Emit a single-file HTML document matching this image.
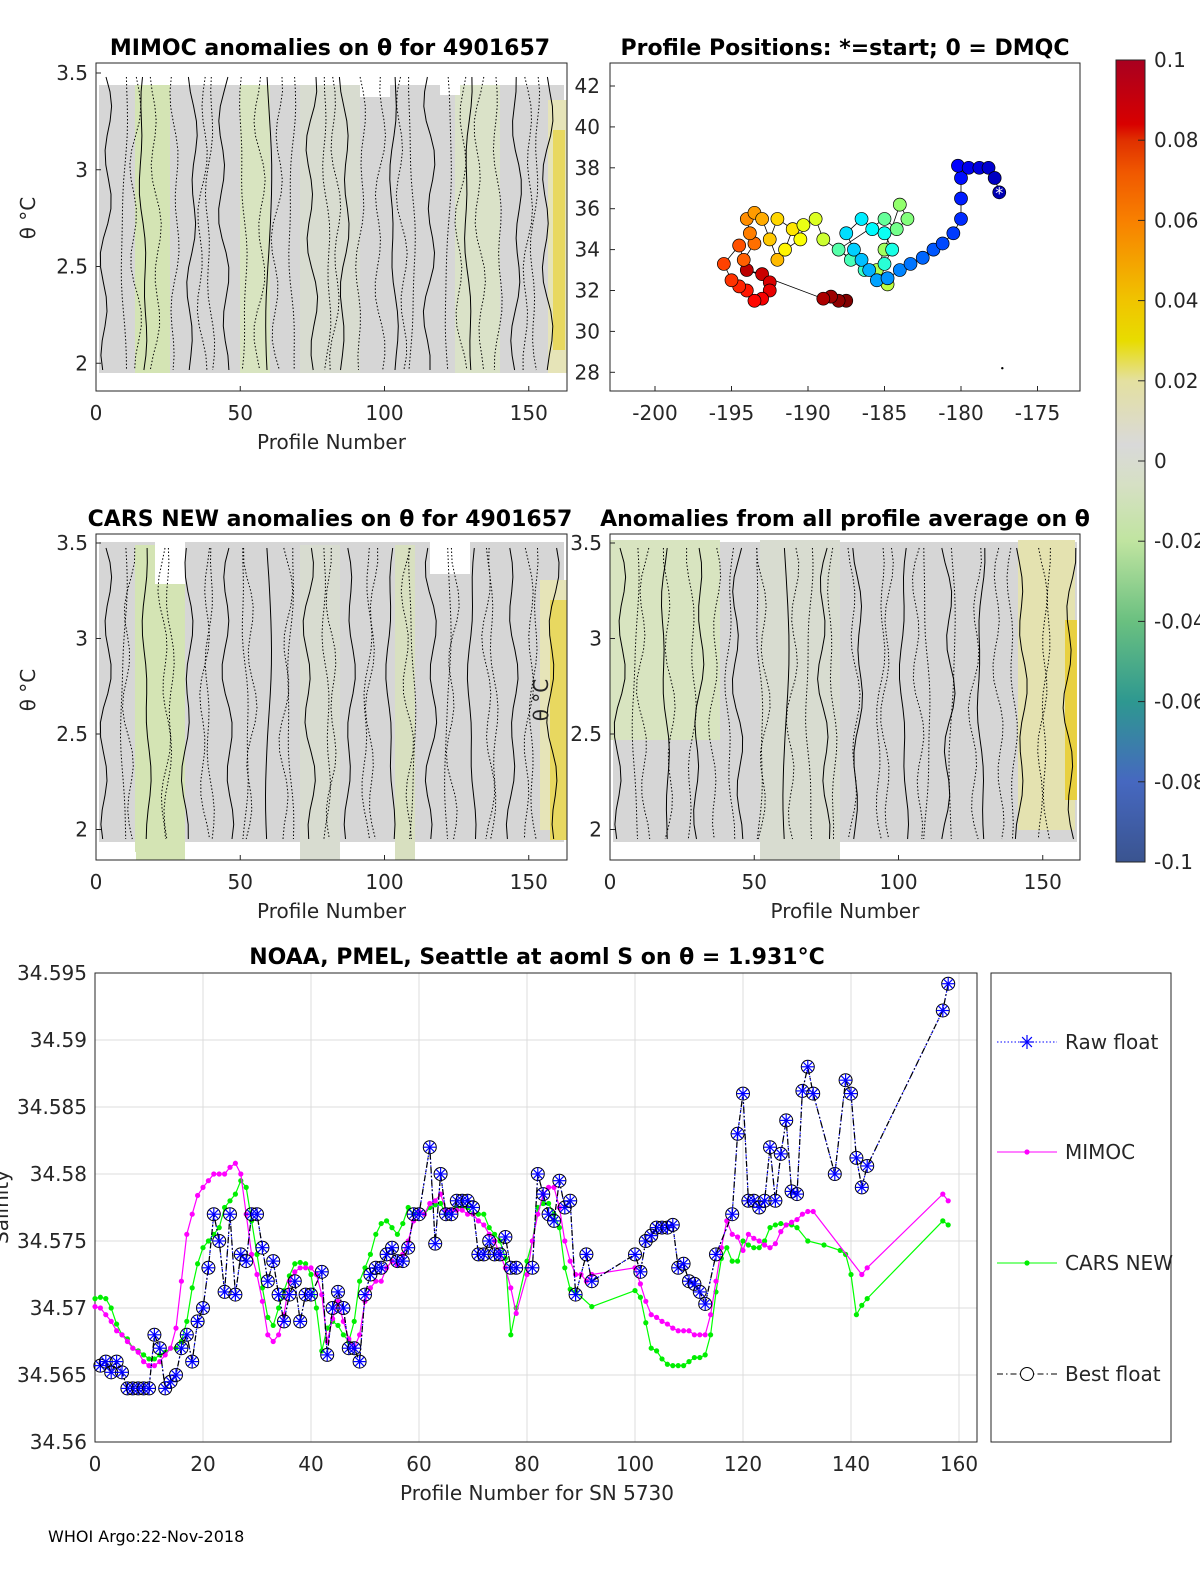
<!DOCTYPE html>
<html><head><meta charset="utf-8">
<style>
html,body{margin:0;padding:0;background:#fff;}
svg{display:block;font-family:"DejaVu Sans","Liberation Sans",sans-serif;}
.t{font-size:20px;fill:#262626;}
.ttl{font-size:22px;font-weight:bold;fill:#000;}
</style></head>
<body>
<svg id="fig" width="1200" height="1575" viewBox="0 0 1200 1575" xmlns="http://www.w3.org/2000/svg">
<defs>
<linearGradient id="cbar" x1="0" y1="1" x2="0" y2="0">
<stop offset="0" stop-color="#3a5490"/>
<stop offset="0.1" stop-color="#4668c0"/>
<stop offset="0.2" stop-color="#2e9890"/>
<stop offset="0.3" stop-color="#6ac080"/>
<stop offset="0.4" stop-color="#c0e4a0"/>
<stop offset="0.47" stop-color="#d6e0c4"/>
<stop offset="0.52" stop-color="#d9d9d9"/>
<stop offset="0.6" stop-color="#e4e0a0"/>
<stop offset="0.65" stop-color="#e8dc00"/>
<stop offset="0.7" stop-color="#f0c400"/>
<stop offset="0.8" stop-color="#f88000"/>
<stop offset="0.86" stop-color="#f05800"/>
<stop offset="0.9" stop-color="#e03000"/>
<stop offset="0.92" stop-color="#d80000"/>
<stop offset="1" stop-color="#a80020"/>
</linearGradient>
</defs>
<g id="panels"></g>
<g id="mapg"></g>
<g id="bottom"></g>
<text x="48" y="1542" font-size="16" fill="#000">WHOI Argo:22-Nov-2018</text>
</svg>
<script>
const NS="http://www.w3.org/2000/svg";
function mk(tag,attrs,parent,txt){const e=document.createElementNS(NS,tag);for(const k in attrs)e.setAttribute(k,attrs[k]);if(txt!==undefined)e.textContent=txt;parent.appendChild(e);return e;}
const P=document.getElementById('panels');

const thetaTicks=[2,2.5,3,3.5];
const profTicks=[0,50,100,150];
function contourPanel(name,x0,y0,w,h,yOf,greens,yellows,whites,seed,title,tx){
  const g=mk('g',{},P);
  
  
  mk('rect',{x:x0,y:y0,width:w,height:h,fill:'#fff'},g);
  mk('rect',{x:x0+3,y:y0+8,width:w-6,height:h-26,fill:'#d6d6d6'},g);
  greens.forEach(r=>mk('rect',{x:r[0],y:r[1],width:r[2],height:r[3],fill:r[4]||'#d4e4b4'},g));
  yellows.forEach(r=>mk('rect',{x:r[0],y:r[1],width:r[2],height:r[3],fill:r[4]},g));
  whites.forEach(r=>mk('rect',{x:r[0],y:r[1],width:r[2],height:r[3],fill:'#fff'},g));
  for(let i=0;i<34;i++){
    const cx=x0+10+i*(w-25)/33+Math.sin(i*seed)*5;
    let d='';
    for(let k=0;k<=20;k++){
      const yy=y0+14+k*(h-35)/20;
      const xx=cx+Math.sin(k*0.9+i*seed)*4*Math.cos(i*1.7)+Math.sin(k*0.31+i)*3;
      d+=(k?'L':'M')+xx.toFixed(1)+','+yy.toFixed(1);
    }
    mk('path',{d:d,fill:'none',stroke:'#000','stroke-width':1,'stroke-dasharray':(i%3==0)?'none':'1.5,2'},g);
  }
  mk('rect',{x:x0,y:y0,width:w,height:h,fill:'none',stroke:'#262626','stroke-width':1},g);
  thetaTicks.forEach(v=>{const y=yOf(v);
    mk('line',{x1:x0,x2:x0+5,y1:y,y2:y,stroke:'#262626'},g);
    mk('text',{x:x0-8,y:y+7,'text-anchor':'end',class:'t'},g,String(v));});
  profTicks.forEach(v=>{const x=x0+v*2.885;
    mk('line',{x1:x,x2:x,y1:y0+h,y2:y0+h-5,stroke:'#262626'},g);
    mk('text',{x:x,y:y0+h+29,'text-anchor':'middle',class:'t'},g,String(v));});
  mk('text',{x:x0+w/2,y:y0+h+58,'text-anchor':'middle',class:'t','font-size':22},g,'Profile Number');
  mk('text',{x:tx,y:y0-8,'text-anchor':'middle',class:'ttl'},g,title);
}
contourPanel('mimoc-anomaly-panel',96,63,471,328,v=>73+(3.5-v)*193.5,
 [[135,85,35,288],[240,85,30,288,'#d8e4c0'],[300,85,60,288,'#d8dcd0'],[455,85,45,288,'#dae2c8']],
 [[548,100,19,273,'#e6e4b8'],[553,130,12,220,'#e8d860']],
 [[96,63,471,22],[96,373,471,18],[360,85,30,12],[440,85,20,10]],1.3,'MIMOC anomalies on θ  for 4901657',330);
contourPanel('cars-anomaly-panel',96,534,471,326,v=>543+(3.5-v)*191,
 [[135,545,50,315],[395,545,20,315,'#d8e0c0'],[300,545,40,315,'#d8dcd0']],
 [[540,580,27,250,'#e6e4b8'],[550,600,17,240,'#e8d860']],
 [[96,534,471,8],[155,534,30,50],[430,534,40,40],[96,852,40,8]],2.1,'CARS NEW anomalies on θ for 4901657',330);
contourPanel('all-profile-anomaly-panel',610,534,470,326,v=>543+(3.5-v)*191,
 [[610,540,110,200,'#d8e4c0'],[760,540,80,320,'#d8dcd0']],
 [[1018,540,57,290,'#e4e2b0'],[1065,620,12,180,'#e8d040']],
 [[610,852,40,8]],2.7,'Anomalies from all profile average on θ',845);
[[35,218],[35,690],[548,700]].forEach(p=>{const t=mk('text',{x:p[0],y:p[1],'text-anchor':'middle',class:'t','font-size':22,transform:'rotate(-90 '+p[0]+' '+p[1]+')'},P,'θ °C');
 });

const cbLabels=['0.1','0.08','0.06','0.04','0.02','0','-0.02','-0.04','-0.06','-0.08','-0.1'];
const cb=mk('g',{},P);


mk('rect',{x:1116,y:60,width:29,height:802,fill:'url(#cbar)',stroke:'#262626'},cb);
cbLabels.forEach((l,i)=>{const y=60+i*80.2;
 mk('line',{x1:1138,x2:1145,y1:y,y2:y,stroke:'#262626'},cb);
 mk('text',{x:1154,y:y+7,class:'t','font-size':18},cb,l);});

const lons=[-177.5,-177.8,-178.2,-178.8,-179.5,-180.2,-180,-180,-180,-180.5,-181.2,-181.8,-182.5,-183.3,-184,-184.8,
 -185.5,-186,-186.5,-187,-187.5,-186.5,-185.8,-185,-184.5,-185,-186.3,-187.2,-188,-185,-184.2,-183.5,-184,-185,-185.5,-184.8,
 -189,-189.5,-190.3,-190.5,-191.5,-191,-192,-192.5,-192,-193,-193.5,-194,-193.8,-193.5,-194.2,-194.5,
 -195.5,-195,-194.5,-194,-193.5,-193,-192.5,-192.5,-193,-194,-189,-188.5,-188,-187.5];
const lats=[36.8,37.5,38,38,38,38.1,37.5,36.5,35.5,34.8,34.3,34,33.6,33.3,33,32.6,
 32.5,33,33.5,34,34.8,35.5,35,34.8,34,33.3,33,33.5,34,35.5,35,35.5,36.2,34,33,32.3,
 34.5,35.5,35.2,34.5,34,35,35.5,34.5,33.5,35.5,35.8,35.5,34.8,34.3,33.5,34.2,
 33.3,32.5,32.2,32,31.5,31.6,32,32.4,32.8,33,31.6,31.7,31.5,31.5];
const lonTicks=[-200,-195,-190,-185,-180,-175];
const latTicks=[28,30,32,34,36,38,40,42];
const M=document.getElementById('mapg');
const mx=l=>655+(l+200)*15.3, my=l=>86+(42-l)*20.45;
mk('rect',{x:610,y:63,width:470,height:328,fill:'none',stroke:'#262626'},M);
latTicks.forEach(v=>{const y=my(v);mk('line',{x1:610,x2:615,y1:y,y2:y,stroke:'#262626'},M);
 mk('text',{x:600,y:y+7,'text-anchor':'end',class:'t'},M,String(v));});
lonTicks.forEach(v=>{const x=mx(v);mk('line',{x1:x,x2:x,y1:391,y2:386,stroke:'#262626'},M);
 mk('text',{x:x,y:420,'text-anchor':'middle',class:'t'},M,String(v));});
mk('text',{x:845,y:55,'text-anchor':'middle',class:'ttl'},M,'Profile Positions: *=start; 0 = DMQC');
let pd='';lons.forEach((l,i)=>{pd+=(i?'L':'M')+mx(l).toFixed(1)+','+my(lats[i]).toFixed(1);});
const trk=mk('path',{d:pd,fill:'none',stroke:'#000','stroke-width':0.8},M);


function jet(t){const c=v=>Math.round(255*Math.max(0,Math.min(1,v)));
 return 'rgb('+c(1.5-Math.abs(4*t-3))+','+c(1.5-Math.abs(4*t-2))+','+c(1.5-Math.abs(4*t-1))+')';}
for(let i=lons.length-1;i>=0;i--){
 const c=mk('circle',{cx:mx(lons[i]),cy:my(lats[i]),r:6.5,fill:jet(0.05+0.95*i/(lons.length-1)),stroke:'#000','stroke-width':0.7},M);
 
 
}
mk('text',{x:mx(-177.5),y:my(36.8)+6,'text-anchor':'middle','font-size':16,fill:'#fff'},M,'*');
mk('circle',{cx:mx(-177.3),cy:my(28.2),r:1.2,fill:'#000'},M);

const bfX=[1,2,3,4,5,6,7,8,9,10,11,12,13,14,15,16,17,18,19,20,21,22,23,24,25,26,27,28,29,30,31,32,33,34,35,36,37,38,39,40,42,43,44,45,46,47,48,49,50,51,52,53,54,55,56,57,58,59,60,62,63,64,65,66,67,68,69,70,71,72,73,74,75,76,77,78,81,82,83,84,85,86,87,88,89,91,92,100,101,102,103,104,105,106,107,108,109,110,111,112,113,115,118,119,120,121,122,123,124,125,126,127,128,129,130,131,132,133,137,139,140,141,142,143,157,158];
const bfY=[34.5657,34.566,34.5652,34.566,34.5652,34.564,34.564,34.564,34.564,34.564,34.568,34.567,34.564,34.5645,34.565,34.567,34.568,34.566,34.569,34.570,34.573,34.577,34.575,34.5712,34.577,34.571,34.574,34.5735,34.577,34.577,34.5745,34.572,34.5735,34.571,34.569,34.571,34.572,34.569,34.571,34.571,34.5727,34.5665,34.570,34.5712,34.570,34.567,34.567,34.566,34.571,34.5725,34.573,34.573,34.574,34.5745,34.5735,34.5735,34.5745,34.577,34.577,34.582,34.5748,34.580,34.577,34.577,34.578,34.578,34.578,34.5775,34.574,34.574,34.575,34.574,34.574,34.5753,34.573,34.573,34.573,34.580,34.5785,34.577,34.5765,34.5795,34.5775,34.578,34.571,34.574,34.572,34.574,34.5727,34.575,34.5754,34.576,34.576,34.576,34.5762,34.573,34.5733,34.572,34.5718,34.5712,34.5703,34.574,34.577,34.583,34.586,34.578,34.578,34.5775,34.578,34.582,34.578,34.5815,34.584,34.5787,34.5785,34.5862,34.588,34.586,34.580,34.587,34.586,34.5812,34.579,34.5806,34.5922,34.5942];
const mimX=[0,1,2,3,4,5,6,7,8,9,10,11,12,13,14,15,16,17,18,19,20,21,22,23,24,25,26,27,28,29,30,31,32,33,34,35,36,37,38,39,40,41,42,43,44,45,46,47,48,49,50,51,52,53,54,55,56,57,58,59,60,61,62,63,64,65,66,67,68,69,70,71,72,73,74,75,76,77,78,80,81,82,83,84,85,86,87,88,89,90,91,92,100,101,102,103,104,105,106,107,108,109,110,111,112,113,114,115,116,117,118,119,120,121,122,123,124,125,126,127,128,129,130,131,132,133,142,143,157,158];
const mimY=[34.5701,34.570,34.5695,34.569,34.5683,34.568,34.5675,34.567,34.5667,34.566,34.5657,34.5657,34.566,34.5665,34.567,34.5685,34.572,34.5755,34.577,34.5784,34.579,34.5795,34.580,34.580,34.580,34.5805,34.5808,34.580,34.577,34.574,34.5725,34.5705,34.568,34.5675,34.568,34.5695,34.572,34.5727,34.573,34.573,34.573,34.5725,34.571,34.5675,34.5692,34.5705,34.569,34.5677,34.567,34.568,34.5705,34.5715,34.572,34.572,34.573,34.5735,34.5732,34.574,34.575,34.5765,34.5772,34.577,34.5778,34.578,34.5785,34.5773,34.5773,34.5773,34.5773,34.577,34.577,34.5765,34.5762,34.5755,34.575,34.574,34.573,34.5715,34.5696,34.5725,34.575,34.577,34.5785,34.579,34.579,34.5775,34.575,34.5735,34.5725,34.5725,34.572,34.5725,34.573,34.5718,34.5705,34.5695,34.5693,34.569,34.5688,34.5685,34.5683,34.5683,34.5683,34.568,34.568,34.568,34.5695,34.572,34.5745,34.5765,34.5755,34.5753,34.5743,34.5755,34.5752,34.575,34.5747,34.5745,34.5748,34.5757,34.5762,34.5764,34.5766,34.577,34.5772,34.5772,34.5725,34.573,34.5785,34.578];
const carsX=[0,1,2,3,4,5,6,7,8,9,10,11,12,13,14,15,16,17,18,19,20,21,22,23,24,25,26,27,28,29,30,31,32,33,34,35,36,37,38,39,40,41,42,43,44,45,46,47,48,49,50,51,52,53,54,55,56,57,58,59,60,61,62,63,64,65,66,67,68,69,70,71,72,73,74,75,76,77,78,80,81,82,83,84,85,86,87,88,89,92,100,101,102,103,104,105,106,107,108,109,110,111,112,113,114,115,116,117,118,119,120,121,122,123,124,125,126,127,128,129,130,132,135,138,139,140,141,142,143,157,158];
const carsY=[34.5707,34.5708,34.5707,34.570,34.5688,34.568,34.5677,34.567,34.5668,34.5665,34.5662,34.5662,34.5665,34.5667,34.567,34.567,34.5675,34.569,34.5715,34.5733,34.5745,34.575,34.5755,34.576,34.5775,34.578,34.5785,34.5795,34.579,34.5765,34.574,34.5715,34.5693,34.5687,34.570,34.5713,34.5724,34.5733,34.5734,34.5733,34.5725,34.570,34.5668,34.5685,34.569,34.5687,34.568,34.5675,34.569,34.572,34.573,34.574,34.5755,34.5763,34.5765,34.576,34.5755,34.5763,34.5775,34.577,34.5772,34.577,34.5775,34.5777,34.5778,34.577,34.5772,34.5775,34.5775,34.5775,34.577,34.577,34.577,34.576,34.5755,34.575,34.5737,34.568,34.570,34.5735,34.575,34.5775,34.5778,34.5778,34.577,34.576,34.573,34.5714,34.5712,34.5701,34.5713,34.5708,34.5689,34.567,34.5668,34.5662,34.5658,34.5657,34.5657,34.5657,34.566,34.5663,34.5663,34.5665,34.568,34.5712,34.5737,34.5745,34.5735,34.5735,34.575,34.5747,34.5745,34.5745,34.575,34.576,34.5762,34.5763,34.5762,34.5762,34.576,34.575,34.5747,34.5743,34.574,34.5725,34.5695,34.5702,34.5707,34.5765,34.5762];
const salTicks=[34.56,34.565,34.57,34.575,34.58,34.585,34.59,34.595];
const salLabels=['34.56','34.565','34.57','34.575','34.58','34.585','34.59','34.595'];
const numTicks=[0,20,40,60,80,100,120,140,160];
const B=document.getElementById('bottom');
const bx=v=>95+v*5.4, by=v=>1442-(v-34.56)/0.005*67;
mk('rect',{x:95,y:973,width:882,height:469,fill:'#fff'},B);
numTicks.forEach(v=>{mk('line',{x1:bx(v),x2:bx(v),y1:973,y2:1442,stroke:'#dcdcdc'},B);
 mk('text',{x:bx(v),y:1471,'text-anchor':'middle',class:'t'},B,String(v));});
salTicks.forEach((v,i)=>{mk('line',{x1:95,x2:977,y1:by(v),y2:by(v),stroke:'#dcdcdc'},B);
 mk('text',{x:87,y:by(v)+7,'text-anchor':'end',class:'t'},B,salLabels[i]);});
mk('rect',{x:95,y:973,width:882,height:469,fill:'none',stroke:'#262626'},B);
mk('text',{x:537,y:1500,'text-anchor':'middle',class:'t','font-size':22},B,'Profile Number for SN 5730');
mk('text',{x:537,y:964,'text-anchor':'middle',class:'ttl'},B,'NOAA, PMEL, Seattle at aoml S on θ = 1.931°C');
mk('text',{x:8,y:1207,'text-anchor':'middle',class:'t','font-size':22,transform:'rotate(-90 8 1207)'},B,'Salinity');
function series(xs,ys,color,dash,name){
 let d='';xs.forEach((x,i)=>{d+=(i?'L':'M')+bx(x).toFixed(1)+','+by(ys[i]).toFixed(1);});
 const p=mk('path',{d:d,fill:'none',stroke:color,'stroke-width':1.2,'stroke-dasharray':dash},B);
 
 
}
series(carsX,carsY,'#00ff00','none','cars-new-line');
carsX.forEach((x,i)=>{const c=mk('circle',{cx:bx(x),cy:by(carsY[i]),r:2.6,fill:'#00ee00'},B);
 
 });
series(mimX,mimY,'#ff00ff','none','mimoc-line');
mimX.forEach((x,i)=>{const c=mk('circle',{cx:bx(x),cy:by(mimY[i]),r:2.6,fill:'#ff00ff'},B);
 
 });
series(bfX,bfY,'#0000ff','1.5,2','raw-float-line');
series(bfX,bfY,'#000','6,3,1.5,3','best-float-line');
function star(cx,cy,g,s){[[s,0],[0,s],[s*0.7,s*0.7],[s*0.7,-s*0.7]].forEach(a=>mk('line',{x1:cx-a[0],y1:cy-a[1],x2:cx+a[0],y2:cy+a[1],stroke:'#0000ff','stroke-width':1.2},g));}
bfX.forEach((x,i)=>{const cx=bx(x),cy=by(bfY[i]);
 const g=mk('g',{},B);
 
 
 mk('circle',{cx:cx,cy:cy,r:6.5,fill:'none',stroke:'#000','stroke-width':1},g);
 star(cx,cy,g,6.5);});
const L=mk('g',{},B);


mk('rect',{x:991,y:973,width:180,height:469,fill:'#fff',stroke:'#262626'},L);
const legNames=['Raw float','MIMOC','CARS NEW','Best float'];
const legY=[1042,1152,1263,1374];
legNames.forEach((n,i)=>{const y=legY[i];
 const e=mk('g',{},L);
 
 
 if(i==0){mk('line',{x1:997,x2:1057,y1:y,y2:y,stroke:'#0000ff','stroke-dasharray':'1.5,2'},e);star(1027,y,e,7);}
 if(i==1){mk('line',{x1:997,x2:1057,y1:y,y2:y,stroke:'#ff00ff'},e);mk('circle',{cx:1027,cy:y,r:2.6,fill:'#ff00ff'},e);}
 if(i==2){mk('line',{x1:997,x2:1057,y1:y,y2:y,stroke:'#00ff00'},e);mk('circle',{cx:1027,cy:y,r:2.6,fill:'#00ee00'},e);}
 if(i==3){mk('line',{x1:997,x2:1057,y1:y,y2:y,stroke:'#000','stroke-dasharray':'6,3,1.5,3'},e);mk('circle',{cx:1027,cy:y,r:6.5,fill:'#fff',stroke:'#000'},e);}
 mk('text',{x:1065,y:y+7,class:'t','font-size':19},e,n);});
</script>
</body></html>
